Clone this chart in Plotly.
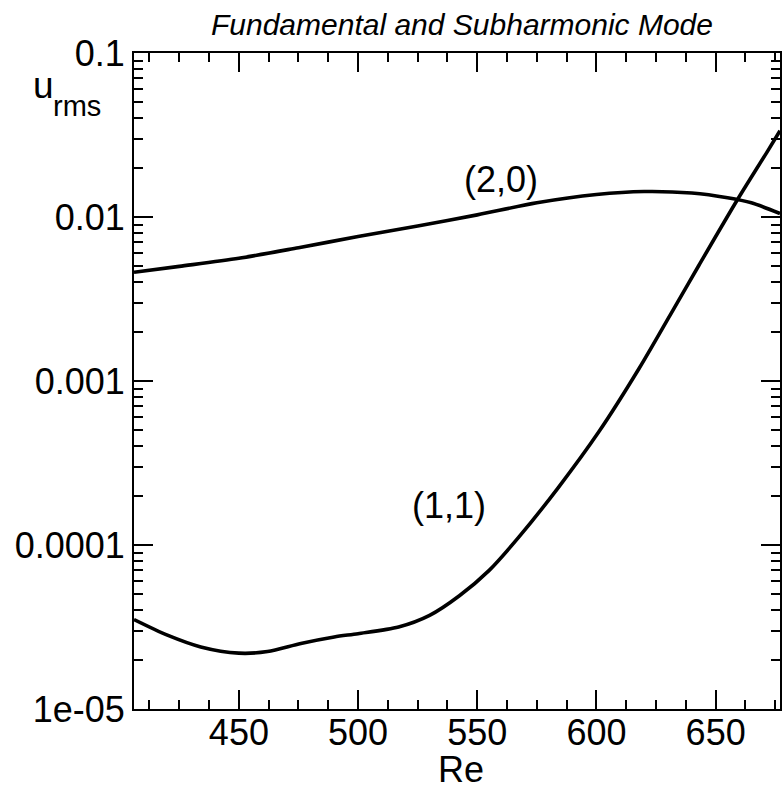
import plotly.graph_objects as go

# ---- data ----
re_20 = [406, 425, 450, 475, 500, 525, 550, 575, 600, 620, 640, 655, 665, 677]
u_20 = [0.0046, 0.0050, 0.0056, 0.0065, 0.0076, 0.0088, 0.0103, 0.0122, 0.0137,
        0.0143, 0.0140, 0.0131, 0.0122, 0.0105]

re_11 = [406, 420, 434, 450, 462, 476, 490, 500, 517, 530, 542.5, 555, 567.5, 584,
         601, 618, 634, 643, 659, 672, 677]
u_11 = [3.51e-5, 2.82e-5, 2.39e-5, 2.19e-5, 2.24e-5, 2.51e-5, 2.75e-5, 2.88e-5, 3.16e-5,
        3.72e-5, 4.90e-5, 7.0e-5, 1.12e-4, 2.24e-4, 4.9e-4, 1.20e-3, 3.02e-3, 5.08e-3,
        1.265e-2, 2.55e-2, 3.36e-2]

y_tickvals = [1e-5, 1e-4, 1e-3, 1e-2, 1e-1]
y_ticktext = ["1e-05", "0.0001", "0.001", "0.01", "0.1"]
y_minor = [m * 10.0 ** e for e in range(-5, -1) for m in range(2, 10)]
x_tickvals = [450, 500, 550, 600, 650]
x_range = [406, 677.0]

FONT = "Liberation Sans, Arial, sans-serif"
L, R, T, B, W, H = 134, 0, 53, 77, 782, 786
PW, PH = W - L - R, H - T - B


def px(xp):
    return (xp - L) / PW


def py(yp):
    return (H - B - yp) / PH


fig = go.Figure()
fig.add_trace(go.Scatter(x=re_20, y=u_20, mode="lines",
                         line=dict(color="black", width=3.6, shape="spline", smoothing=0.8)))
fig.add_trace(go.Scatter(x=re_11, y=u_11, mode="lines",
                         line=dict(color="black", width=3.6, shape="spline", smoothing=0.8)))

fig.update_layout(
    width=W, height=H,
    margin=dict(l=L, r=R, t=T, b=B),
    paper_bgcolor="white", plot_bgcolor="white",
    showlegend=False,
    font=dict(family=FONT, color="black", size=36),
    title=dict(text="<i>Fundamental and Subharmonic Mode</i>", font=dict(size=30, family=FONT),
               x=px(463), xref="paper", xanchor="center", y=1 - 24 / H, yref="container",
               yanchor="middle"),
)
fig.update_xaxes(
    range=x_range, tickmode="array", tickvals=x_tickvals,
    ticks="inside", ticklen=19, tickwidth=2, tickcolor="black",
    showline=True, linecolor="black", linewidth=2, mirror="ticks",
    showgrid=False, zeroline=False, ticklabelstandoff=-9,
    tickfont=dict(size=36, family=FONT),
    minor=dict(ticks="inside", ticklen=9, tickwidth=1.5, tickcolor="black", dtick=12.5,
               tick0=400, showgrid=False),
)
fig.update_yaxes(
    type="log", range=[-5, -1], tickmode="array", tickvals=y_tickvals, ticktext=y_ticktext,
    ticks="inside", ticklen=19, tickwidth=2, tickcolor="black",
    showline=True, linecolor="black", linewidth=2, mirror="ticks",
    showgrid=False, zeroline=False,
    tickfont=dict(size=36, family=FONT),
    minor=dict(ticks="inside", ticklen=9, tickwidth=1.5, tickcolor="black", tickvals=y_minor,
               showgrid=False),
)

fig.add_annotation(text="(2,0)", x=560, y=-1.77, xref="x", yref="y", showarrow=False,
                   font=dict(size=36, family=FONT))
fig.add_annotation(text="(1,1)", x=538, y=-3.758, xref="x", yref="y", showarrow=False,
                   font=dict(size=36, family=FONT))
fig.add_annotation(text="u", x=px(31), y=py(85), xref="paper", yref="paper",
                   xanchor="left", yanchor="middle", showarrow=False,
                   font=dict(size=37, family=FONT))
fig.add_annotation(text="rms", x=px(51), y=py(106), xref="paper", yref="paper",
                   xanchor="left", yanchor="middle", showarrow=False,
                   font=dict(size=29, family=FONT))
fig.add_annotation(text="Re", x=px(462), y=py(769), xref="paper", yref="paper",
                   xanchor="center", yanchor="middle", showarrow=False,
                   font=dict(size=36, family=FONT))

fig.write_html("out.html")
